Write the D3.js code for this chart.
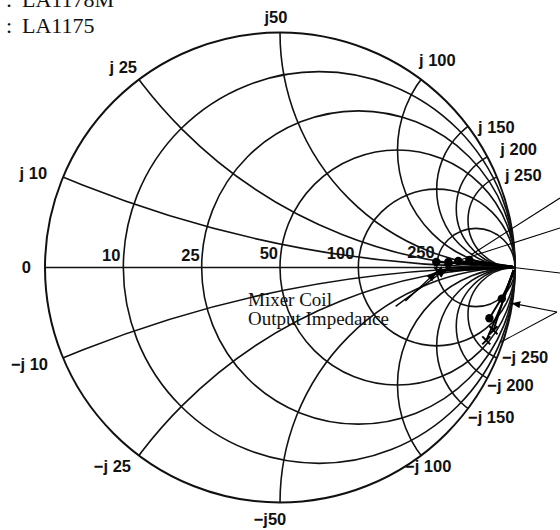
<!DOCTYPE html>
<html><head><meta charset="utf-8">
<script src="https://cdn.jsdelivr.net/npm/d3@7"></script>
<style>body{margin:0;background:#fff}svg{display:block}</style>
</head><body><svg id="c" width="560" height="530"></svg>
<script>
// ---- data (ohms, Z0 = 50) ----
const Z0 = 50;
const resistanceValues = [10, 25, 50, 100, 250];
const resistanceLabels = ["10", "25", "50", "100", "250"];
const reactanceValues = [10, 25, 50, 100, 150, 200, 250];
const reactanceLabelsPos = ["j 10", "j 25", "j50", "j 100", "j 150", "j 200", "j 250"];
const reactanceLabelsNeg = ["\u2212j 10", "\u2212j 25", "\u2212j50", "\u2212j 100", "\u2212j 150", "\u2212j 200", "\u2212j 250"];
const legendNames = ["LA1178M", "LA1175"];
// traces [R, X] in ohms; the first point carries the marker
const dotTraces = [
  [[247, 21], [8000, 3230]],
  [[300, 29], [8000, 3230]],
  [[359, 47], [8000, 3230]],
  [[451, 82], [8000, 3230]],
  [[221, -640], [892, -2812], [4084, -6900]],
  [[136, -369], [294, -910], [4084, -6900]]
];
const crossTraces = [
  [[255, -14], [8000, -1000]],
  [[302, -2], [8000, -1000]],
  [[60, -279], [149, -553], [892, -2812], [4084, -6900]],
  [[65, -335], [294, -910], [4084, -6900]]
];
// annotation arrows: from -> to (ohms)
const arrowLinks = [
  [[128, -58], [296, -4]],
  [[146, -60], [250, -15]]
];

// ---- layout ----
const W = 560, H = 530, cx = 280, cy = 267.5, R = 235;
const svg = d3.select("#c");
const xs = d3.scaleLinear().domain([-1, 1]).range([cx - R, cx + R]);
const ys = d3.scaleLinear().domain([-1, 1]).range([cy + R, cy - R]);
const len = v => xs(v) - xs(0);
function gamma([Rr, X]) {
  const r = Rr / Z0, x = X / Z0, d = (r + 1) * (r + 1) + x * x;
  return [(r * r + x * x - 1) / d, 2 * x / d];
}
const px = p => { const g = gamma(p); return [xs(g[0]), ys(g[1])]; };

svg.append("defs").append("clipPath").attr("id", "uc")
  .append("circle").attr("cx", xs(0)).attr("cy", ys(0)).attr("r", len(1));
const grid = svg.append("g").attr("fill", "none").attr("stroke", "#111").attr("stroke-width", 1.6);
// resistance circles
resistanceValues.forEach(v => {
  const r = v / Z0;
  grid.append("circle").attr("cx", xs(r / (r + 1))).attr("cy", ys(0)).attr("r", len(1 / (r + 1)));
});
// reactance arcs
const rg = grid.append("g").attr("clip-path", "url(#uc)");
reactanceValues.forEach(v => {
  const x = v / Z0;
  [1, -1].forEach(s => rg.append("circle").attr("cx", xs(1)).attr("cy", ys(s / x)).attr("r", len(1 / x)));
});
// real axis & outer circle
grid.append("line").attr("x1", xs(-1)).attr("x2", xs(1)).attr("y1", ys(0)).attr("y2", ys(0));
grid.append("circle").attr("cx", xs(0)).attr("cy", ys(0)).attr("r", len(1)).attr("stroke-width", 2);

// ---- labels ----
const lab = svg.append("g").attr("font-family", "'Liberation Sans', Arial, sans-serif")
  .attr("font-size", 16.5).attr("font-weight", "bold").attr("fill", "#111");
lab.append("text").attr("x", xs(-1) - 14).attr("y", ys(0) + 5).attr("text-anchor", "end").text("0");
const rOff = [[-3, -7], [-2, -7], [-2, -9], [-4, -9], [-2, -10]];
resistanceValues.forEach((v, i) => {
  const r = v / Z0, g = (r - 1) / (r + 1);
  lab.append("text").attr("x", xs(g) + rOff[i][0]).attr("y", ys(0) + rOff[i][1])
    .attr("text-anchor", "end").text(resistanceLabels[i]);
});
const posOff = [[-16, 2, "end"], [-2, -7, "end"], [-4, -10, "middle"], [-2, -14, "start"], [10, 6, "start"], [13, -2, "start"], [8, 4, "start"]];
const negOff = [[-15, 12, "end"], [-8, 16, "end"], [-10, 22, "middle"], [-16, 16, "start"], [0, 14, "start"], [0, 13, "start"], [5, 5, "start"]];
reactanceValues.forEach((v, i) => {
  [[v, posOff[i], reactanceLabelsPos[i]], [-v, negOff[i], reactanceLabelsNeg[i]]].forEach(([X, o, t]) => {
    const p = px([0, X]);
    lab.append("text").attr("x", p[0] + o[0]).attr("y", p[1] + o[1]).attr("text-anchor", o[2]).text(t);
  });
});

// ---- traces ----
const line = d3.line().x(d => px(d)[0]).y(d => px(d)[1]);
const tr = svg.append("g").attr("fill", "none").attr("stroke", "#000").attr("stroke-width", 1.9);
dotTraces.concat(crossTraces).forEach(t => tr.append("path").attr("d", line(t)));
svg.append("g").selectAll("circle").data(dotTraces).join("circle")
  .attr("cx", d => px(d[0])[0]).attr("cy", d => px(d[0])[1]).attr("r", 4.2).attr("fill", "#000");
svg.append("g").selectAll("path").data(crossTraces).join("path")
  .attr("transform", d => `translate(${px(d[0])[0]},${px(d[0])[1]})`)
  .attr("d", "M-4,-4L4,4M-4,4L4,-4").attr("stroke", "#000").attr("stroke-width", 2);

// arrows
svg.append("defs").append("marker").attr("id", "ah").attr("viewBox", "0 0 10 10").attr("refX", 10).attr("refY", 5)
  .attr("markerWidth", 8).attr("markerHeight", 8).attr("orient", "auto")
  .append("path").attr("d", "M0,1L10,5L0,9z").attr("fill", "#000");
arrowLinks.forEach(([a, b]) => {
  const p = px(a), q = px(b);
  svg.append("line").attr("x1", p[0]).attr("y1", p[1]).attr("x2", q[0]).attr("y2", q[1])
    .attr("stroke", "#000").attr("stroke-width", 1.3).attr("marker-end", "url(#ah)");
});
// leader lines to off-page notes at right edge
const leaderTargets = [[442, 140], [350, 45], [20000, 0], [15, -653]];
const leaderEnds = [[W, 198], [W, 228], [W, 273], [W - 3, 312]];
leaderTargets.forEach((t, i) => {
  const q = px(t);
  svg.append("line").attr("x1", leaderEnds[i][0]).attr("y1", leaderEnds[i][1]).attr("x2", q[0]).attr("y2", q[1])
    .attr("stroke", "#000").attr("stroke-width", 1.1).attr("marker-end", i === 3 ? "url(#ah)" : null);
});
{
  const q = px([60, -279]);
  svg.append("line").attr("x1", W - 3).attr("y1", 312).attr("x2", q[0] + 14).attr("y2", q[1] + 2)
    .attr("stroke", "#000").attr("stroke-width", 1.1);
}

// ---- text ----
const serif = svg.append("g").attr("font-family", "'Liberation Serif', 'Times New Roman', serif").attr("fill", "#111");
serif.append("text").attr("x", 248).attr("y", 306).attr("font-size", 19).text("Mixer Coil");
serif.append("text").attr("x", 248).attr("y", 325).attr("font-size", 19).text("Output  Impedance");
legendNames.forEach((n, i) => {
  const t = serif.append("text").attr("font-size", 22).attr("y", 7 + i * 26);
  t.append("tspan").attr("x", 6).text(":");
  t.append("tspan").attr("x", 22).text(n);
});
</script></body></html>
